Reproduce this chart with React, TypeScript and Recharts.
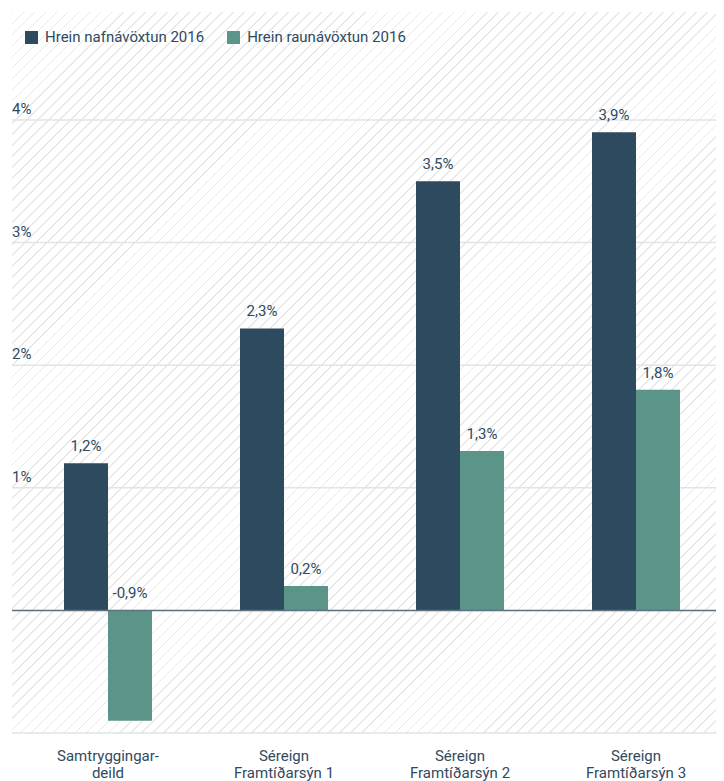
import React from 'react';
import { BarChart, Bar, XAxis, YAxis, CartesianGrid, ReferenceLine, LabelList } from 'recharts';

const categories = [
  'Samtryggingar-\ndeild',
  'Séreign\nFramtíðarsýn 1',
  'Séreign\nFramtíðarsýn 2',
  'Séreign\nFramtíðarsýn 3',
];
const nominalReturn = [1.2, 2.3, 3.5, 3.9];
const realReturn = [-0.9, 0.2, 1.3, 1.8];
const yTicks = [0, 1, 2, 3, 4];
const seriesNames = ['Hrein nafnávöxtun 2016', 'Hrein raunávöxtun 2016'];
const seriesKeys = ['nominal', 'real'];
const seriesColors = ['#2e4a5e', '#5b9488'];

const data = categories.map((name, i) => ({
  name,
  nominal: nominalReturn[i],
  real: realReturn[i],
}));

const FONT = 'Roboto, "Noto Sans", sans-serif';
const TEXT = '#2f4a5e';

const fmt = (v: number) => v.toFixed(1).replace('.', ',') + '%';

const YTick = (props: any) => {
  const { y, payload } = props;
  if (payload.value === 0) return <g />;
  return (
    <text x={12} y={y - 6} fill={TEXT} fontSize={15} fontFamily={FONT} textAnchor="start">
      {payload.value}%
    </text>
  );
};

const XTick = (props: any) => {
  const { x, y, payload } = props;
  const lines = String(payload.value).split('\n');
  return (
    <g>
      {lines.map((l: string, i: number) => (
        <text key={i} x={x} y={y + 28 + i * 17} fill={TEXT} fontSize={15} fontFamily={FONT} textAnchor="middle">
          {l}
        </text>
      ))}
    </g>
  );
};

const ValueLabel = (props: any) => {
  const { x, y, width, height, value } = props;
  const top = Math.min(Number(y), Number(y) + Number(height));
  return (
    <text x={Number(x) + Number(width) / 2} y={top - 12} fill={TEXT} fontSize={15} fontFamily={FONT} textAnchor="middle">
      {fmt(Number(value))}
    </text>
  );
};

export default function App() {
  return (
    <div style={{ position: 'relative', width: 724, height: 781, marginLeft: -8, marginTop: -8, fontFamily: FONT }}>
      <div
        style={{
          position: 'absolute',
          left: 12,
          top: 12,
          width: 712,
          height: 721,
          background:
            'repeating-linear-gradient(135deg, #e8e8e8 0px, #e8e8e8 1.2px, rgba(255,255,255,0) 1.2px, rgba(255,255,255,0) 7.8px)',
        }}
      />
      <div
        style={{
          position: 'absolute',
          left: 25,
          top: 28,
          display: 'flex',
          alignItems: 'center',
          fontSize: 15,
          color: TEXT,
          fontFamily: FONT,
        }}
      >
        {seriesNames.map((n, i) => (
          <div key={n} style={{ display: 'flex', alignItems: 'center', marginRight: 23 }}>
            <span style={{ display: 'inline-block', width: 13, height: 13, background: seriesColors[i], marginRight: 7 }} />
            <span>{n}</span>
          </div>
        ))}
      </div>
      <div style={{ position: 'absolute', left: 0, top: 0 }}>
        <BarChart
          width={724}
          height={781}
          data={data}
          margin={{ top: 120, right: 0, bottom: 0, left: 0 }}
          barGap={0}
        >
          <CartesianGrid vertical={false} stroke="#dfe4e7" strokeWidth={1.5} />
          <XAxis
            dataKey="name"
            axisLine={false}
            tickLine={false}
            tickSize={0}
            tickMargin={0}
            interval={0}
            height={48}
            padding={{ left: 8, right: 0 }}
            tick={<XTick />}
          />
          <YAxis
            width={12}
            domain={[-1, 4]}
            ticks={yTicks}
            axisLine={false}
            tickLine={false}
            tick={<YTick />}
            allowDataOverflow
          />
          <ReferenceLine y={0} stroke="#5f7382" strokeWidth={1.5} />
          {seriesKeys.map((k, i) => (
            <Bar key={k} dataKey={k} name={seriesNames[i]} fill={seriesColors[i]} barSize={44} isAnimationActive={false}>
              <LabelList dataKey={k} content={<ValueLabel />} />
            </Bar>
          ))}
        </BarChart>
      </div>
    </div>
  );
}
